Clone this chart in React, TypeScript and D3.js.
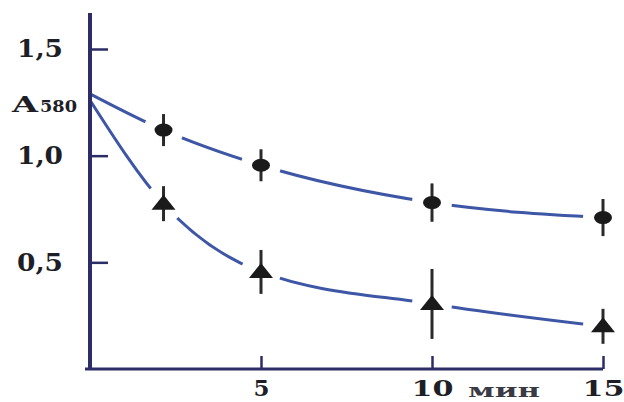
import React, { useEffect, useRef } from 'react';
import * as d3 from 'd3';

// time, min
const times = [0, 2.15, 5, 10, 15];
// circles
const circleValues = [1.29, 1.12, 0.955, 0.78, 0.71];
const circleErrors = [0, 0.075, 0.075, 0.09, 0.087];
// triangles
const triangleValues = [1.26, 0.775, 0.455, 0.305, 0.2];
const triangleErrors = [0, 0.082, 0.103, 0.164, 0.082];

const yTicks = [0.5, 1.0, 1.5];
const xTicks = [5, 10, 15];

const App = () => {
  const svgRef = useRef<SVGSVGElement>(null);

  useEffect(() => {
    const width = 624;
    const height = 402;
    const svg = d3.select(svgRef.current)
      .attr('width', width)
      .attr('height', height)
      .style('position', 'absolute')
      .style('left', 0)
      .style('top', 0)
      .style('background', '#ffffff');

    svg.selectAll('*').remove();

    const x0 = 90;
    const y0 = 369;
    const xScale = d3.scaleLinear().domain([0, 15]).range([x0, x0 + 513]);
    const yScale = d3.scaleLinear().domain([0, 1.5]).range([y0, y0 - 320]);

    const textColor = '#1e1e26';
    const lineColor = '#3d56a6';
    const axisColor = '#2c2d66';
    const fontFamily = '"DejaVu Serif", "Liberation Serif", serif';

    const series = [
      { values: circleValues, errors: circleErrors, shape: 'circle' },
      { values: triangleValues, errors: triangleErrors, shape: 'triangle' },
    ];

    // mask to leave gaps in the lines around the markers
    const mask = svg.append('defs').append('mask').attr('id', 'gaps');
    mask.append('rect').attr('width', width).attr('height', height).attr('fill', 'white');
    series.forEach(s => {
      times.forEach((t, i) => {
        if (i === 0) return;
        mask.append('circle')
          .attr('cx', xScale(t))
          .attr('cy', yScale(s.values[i]))
          .attr('r', 20)
          .attr('fill', 'black');
      });
    });

    const line = d3.line<number>()
      .x((d, i) => xScale(times[i]))
      .y(d => yScale(d))
      .curve(d3.curveMonotoneX);

    series.forEach(s => {
      svg.append('path')
        .datum(s.values)
        .attr('d', line)
        .attr('fill', 'none')
        .attr('stroke', lineColor)
        .attr('stroke-width', 3)
        .attr('mask', 'url(#gaps)');
    });

    // axes
    const yAxis = d3.axisLeft(yScale)
      .tickValues(yTicks)
      .tickSize(-18)
      .tickPadding(27)
      .tickFormat(d => d3.format('.1f')(d as number).replace('.', ','));

    const gy = svg.append('g')
      .attr('transform', `translate(${x0},0)`)
      .call(yAxis);
    gy.select('.domain').remove();
    gy.selectAll('.tick line').attr('stroke', axisColor).attr('stroke-width', 2.5);
    gy.selectAll('.tick text')
      .attr('fill', textColor)
      .attr('font-family', fontFamily)
      .attr('font-weight', 'bold')
      .attr('font-size', 24)
      .attr('textLength', 46)
      .attr('lengthAdjust', 'spacingAndGlyphs');

    const xAxis = d3.axisBottom(xScale)
      .tickValues(xTicks)
      .tickSize(-13)
      .tickPadding(11)
      .tickFormat(d => String(d));

    const gx = svg.append('g')
      .attr('transform', `translate(0,${y0})`)
      .call(xAxis);
    gx.select('.domain').remove();
    gx.selectAll('.tick line').attr('stroke', axisColor).attr('stroke-width', 2.5);
    gx.selectAll('.tick text')
      .attr('fill', textColor)
      .attr('font-family', fontFamily)
      .attr('font-weight', 'bold')
      .attr('font-size', 22)
      .attr('textLength', d => ((d as number) < 10 ? 16 : 42))
      .attr('lengthAdjust', 'spacingAndGlyphs');

    // axis lines
    svg.append('line')
      .attr('x1', x0).attr('x2', x0)
      .attr('y1', 13).attr('y2', y0 + 1)
      .attr('stroke', axisColor)
      .attr('stroke-width', 4);
    svg.append('line')
      .attr('x1', x0 - 5).attr('x2', xScale(15))
      .attr('y1', y0).attr('y2', y0)
      .attr('stroke', axisColor)
      .attr('stroke-width', 3);

    // axis titles
    svg.append('text')
      .attr('x', 12)
      .attr('y', 112)
      .attr('fill', textColor)
      .attr('font-family', fontFamily)
      .attr('font-weight', 'bold')
      .attr('font-size', 22)
      .attr('textLength', 26)
      .attr('lengthAdjust', 'spacingAndGlyphs')
      .text('A');
    svg.append('text')
      .attr('x', 40)
      .attr('y', 112)
      .attr('fill', textColor)
      .attr('font-family', fontFamily)
      .attr('font-weight', 'bold')
      .attr('font-size', 16)
      .attr('textLength', 37)
      .attr('lengthAdjust', 'spacingAndGlyphs')
      .text('580');

    svg.append('text')
      .attr('x', 468)
      .attr('y', 397)
      .attr('fill', '#3a3a44')
      .attr('font-family', fontFamily)
      .attr('font-weight', 'bold')
      .attr('font-size', 19)
      .attr('textLength', 72)
      .attr('lengthAdjust', 'spacingAndGlyphs')
      .text('мин');

    // error bars and markers
    series.forEach(s => {
      const g = svg.append('g');
      times.forEach((t, i) => {
        if (i === 0) return;
        const cx = xScale(t);
        const cy = yScale(s.values[i]);
        g.append('line')
          .attr('x1', cx).attr('x2', cx)
          .attr('y1', yScale(s.values[i] + s.errors[i]))
          .attr('y2', yScale(s.values[i] - s.errors[i]))
          .attr('stroke', '#2a2a2a')
          .attr('stroke-width', 3);
        if (s.shape === 'circle') {
          g.append('ellipse')
            .attr('cx', cx).attr('cy', cy)
            .attr('rx', 9).attr('ry', 6.5)
            .attr('fill', '#1a1a1a');
        } else {
          g.append('path')
            .attr('d', `M${cx},${cy - 9} L${cx + 12},${cy + 6} L${cx - 12},${cy + 6} Z`)
            .attr('fill', '#1a1a1a');
        }
      });
    });
  }, []);

  return (
    <div>
      <svg ref={svgRef}></svg>
    </div>
  );
};

export default App;
